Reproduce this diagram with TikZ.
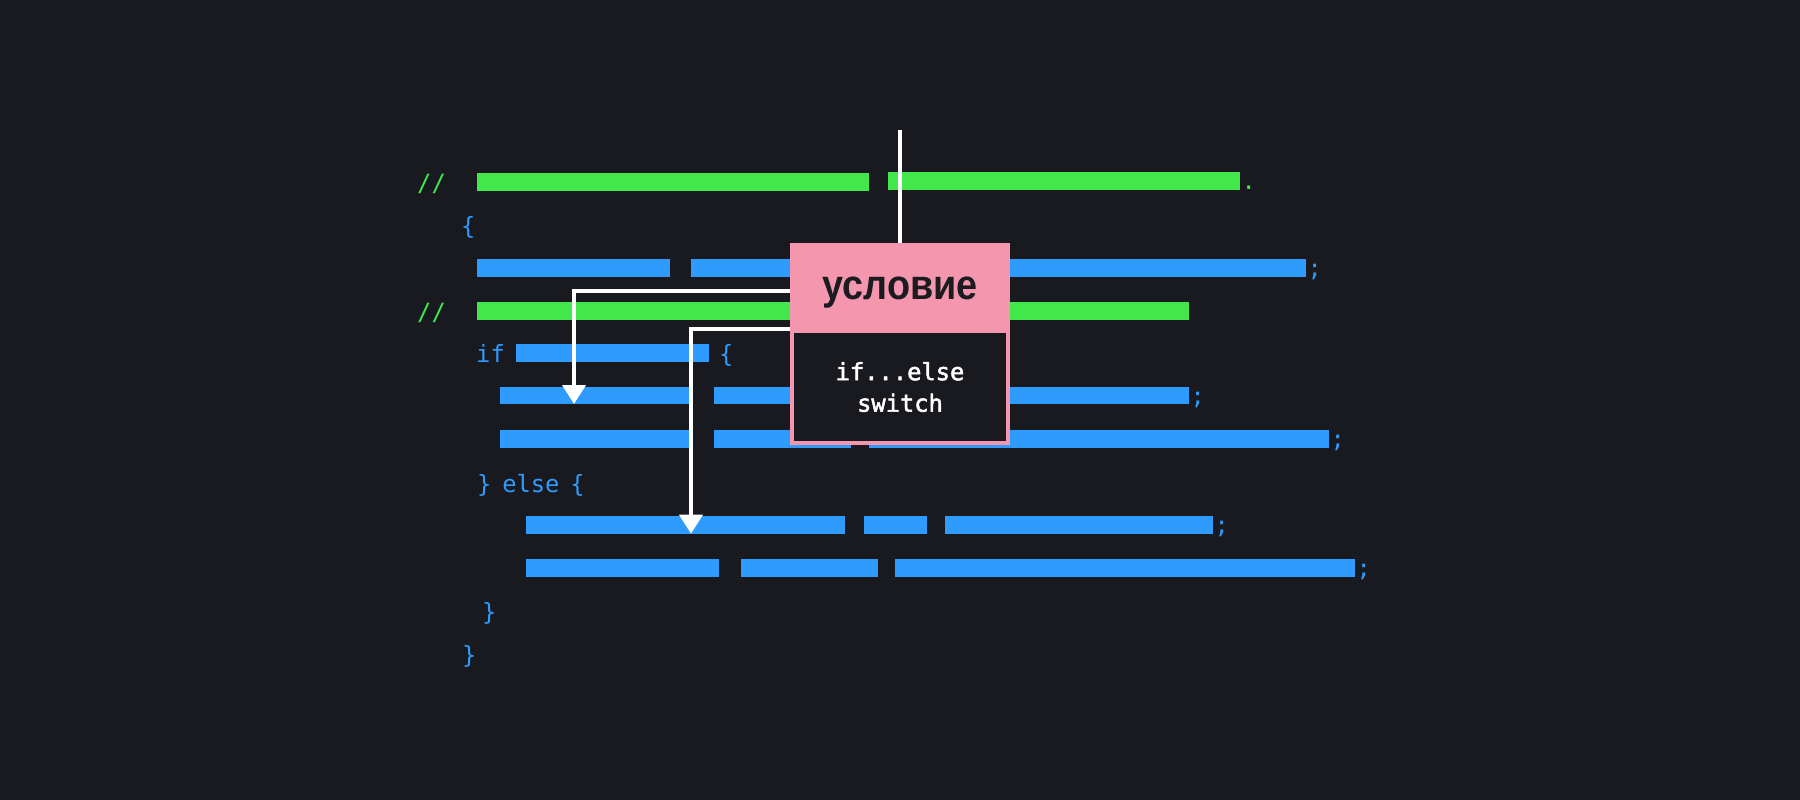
\documentclass[tikz,border=0pt]{standalone}
\usepackage{fontspec}
\setmonofont{DejaVu Sans Mono}
\newfontfamily\headfont{Liberation Sans}[FakeStretch=0.9]
\newfontfamily\bodyfont{DejaVu Sans Mono}[FakeBold=2]
\usetikzlibrary{arrows.meta}

\definecolor{bg}{HTML}{191A1F}
\definecolor{codegreen}{HTML}{42E84B}
\definecolor{codeblue}{HTML}{2F9BFF}
\definecolor{condpink}{HTML}{F497AE}
\definecolor{darktext}{HTML}{1B1B20}

\begin{document}
\begin{tikzpicture}[x = 1pt, y = -1pt,
    bar/.style = {rectangle, inner sep = 0pt, minimum height = 17.5pt, anchor = west},
    code/.style = {inner sep = 0pt, anchor = base west,
                   font = \ttfamily\fontsize{23.75}{31.5}\selectfont},
    flow/.style = {draw = white, line width = 4pt}]
  \fill [bg] (0,0) rectangle (1800,800);
  \useasboundingbox (0,0) rectangle (1800,800);

  \foreach \y/\a/\b/\c [count = \id] in {
    182/476.5/869/codegreen, 181/888/1240/codegreen,
    268/476.5/670/codeblue, 268/691/1306/codeblue,
    311/476.5/1189/codegreen,
    353/516/709/codeblue,
    395.5/499.5/689/codeblue, 395.5/714/1189/codeblue,
    439/499.5/689/codeblue, 439/714/851/codeblue, 439/869/1329/codeblue,
    525/526/845/codeblue, 525/864/927/codeblue, 525/945/1213/codeblue,
    568/526/719/codeblue, 568/741/878/codeblue, 568/895/1355/codeblue}
    \node [bar, fill = \c, minimum width = {(\b-\a)*1pt}] (bar\id) at (\a,\y) {};

  \foreach \x/\y/\c/\txt [count = \id] in {
    417/191/codegreen/{//},
    461/234/codeblue/{\{},
    417/320/codegreen/{//},
    476/362/codeblue/{if},
    719/362/codeblue/{\{},
    477/492/codeblue/{\}\hspace{10.8pt}else\hspace{10.8pt}\{},
    482/620.5/codeblue/{\}},
    462/663.7/codeblue/{\}}}
    \node [code, text = \c] (txt\id) at (\x,\y) {\txt};

  \node [code, text = codegreen] (dot2) at ([xshift = 1pt]bar2.south east) {.};
  \foreach \id in {4, 8, 11, 14, 17}
    \node [code, text = codeblue] (semi\id) at ([xshift = 1pt]bar\id.south east) {;};

  \coordinate (src) at (900,130);
  \coordinate (turn1) at (574,291);
  \coordinate (tip1) at (574,404);
  \coordinate (turn2) at (691,329);
  \coordinate (tip2) at (691,533.7);

  \node [fill = condpink, minimum width = 220pt, minimum height = 90pt, inner sep = 0pt,
         text height = 22pt, text depth = 0pt, text = darktext,
         font = \headfont\bfseries\fontsize{42}{42}\selectfont]
        (head) at (900,288) {условие};

  \draw [flow] (src) -- (head.north);
  \draw [flow, -{Triangle[width = 23pt, length = 19pt]}]
        (head.west |- turn1) -- (turn1) -- (tip1);
  \draw [flow, -{Triangle[width = 23pt, length = 19pt]}]
        (head.west |- turn2) -- (turn2) -- (tip2);

  \node [fill = bg, draw = condpink, line width = 4pt, minimum width = 216pt,
         minimum height = 112pt, align = center, text = white,
         font = \bodyfont\fontsize{23.75}{31.5}\selectfont]
        (body) at (900,387) {if...else\\switch};
\end{tikzpicture}
\end{document}
